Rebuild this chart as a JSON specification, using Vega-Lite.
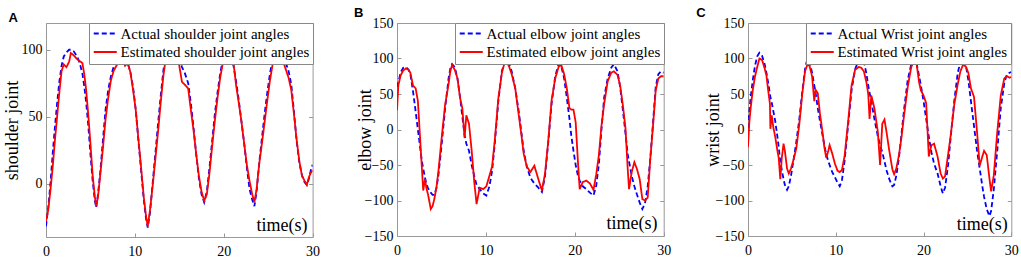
{
  "$schema": "https://vega.github.io/schema/vega-lite/v6.json",
  "background": "white",
  "padding": {"left": 2, "top": 6, "right": 5, "bottom": 0},
  "spacing": 84,
  "bounds": "flush",
  "datasets": {
    "A": [
      {"t":0,"a":-32,"e":-28},{"t":0.25,"a":-18,"e":-20},{"t":0.5,"a":0,"e":-5},{"t":0.75,"a":22,"e":12},{"t":1.0,"a":42,"e":32},{"t":1.25,"a":60,"e":50},{"t":1.5,"a":76,"e":68},{"t":1.75,"a":88,"e":84},{"t":2.0,"a":95,"e":89},{"t":2.3,"a":98,"e":87},{"t":2.6,"a":100,"e":91},{"t":2.8,"a":100,"e":97.5},{"t":3.1,"a":99,"e":96},{"t":3.5,"a":95,"e":93},{"t":3.8,"a":90,"e":91.5},{"t":4.1,"a":82,"e":90},{"t":4.3,"a":73,"e":82},{"t":4.5,"a":62,"e":71},{"t":4.75,"a":44,"e":52},{"t":5.0,"a":22,"e":30},{"t":5.25,"a":2,"e":6},{"t":5.5,"a":-13,"e":-10},{"t":5.65,"a":-18,"e":-17},{"t":5.85,"a":-8,"e":-10},{"t":6.1,"a":8,"e":6},{"t":6.4,"a":32,"e":26},{"t":6.7,"a":55,"e":48},{"t":7.0,"a":70,"e":64},{"t":7.3,"a":80,"e":77},{"t":7.6,"a":87,"e":84},{"t":8.0,"a":92,"e":89},{"t":8.3,"a":95,"e":92},{"t":8.6,"a":96,"e":93},{"t":8.9,"a":94,"e":88},{"t":9.2,"a":90,"e":90},{"t":9.5,"a":83,"e":83},{"t":9.8,"a":72,"e":70},{"t":10.1,"a":55,"e":55},{"t":10.4,"a":32,"e":33},{"t":10.7,"a":10,"e":12},{"t":11.0,"a":-12,"e":-10},{"t":11.25,"a":-26,"e":-24},{"t":11.45,"a":-33,"e":-32},{"t":11.7,"a":-22,"e":-20},{"t":12.0,"a":0,"e":-2},{"t":12.3,"a":22,"e":18},{"t":12.6,"a":44,"e":38},{"t":12.9,"a":65,"e":60},{"t":13.2,"a":84,"e":80},{"t":13.5,"a":98,"e":95},{"t":13.8,"a":106,"e":102},{"t":14.2,"a":108,"e":104},{"t":14.6,"a":104,"e":100},{"t":15.0,"a":93,"e":88},{"t":15.3,"a":87,"e":76},{"t":15.6,"a":83,"e":74},{"t":16.0,"a":75,"e":71},{"t":16.3,"a":60,"e":55},{"t":16.6,"a":42,"e":40},{"t":16.9,"a":22,"e":22},{"t":17.2,"a":4,"e":6},{"t":17.5,"a":-8,"e":-6},{"t":17.8,"a":-14,"e":-13},{"t":18.1,"a":-6,"e":-8},{"t":18.4,"a":12,"e":8},{"t":18.7,"a":32,"e":28},{"t":19.0,"a":52,"e":47},{"t":19.3,"a":68,"e":64},{"t":19.6,"a":82,"e":79},{"t":19.9,"a":93,"e":90},{"t":20.2,"a":100,"e":97},{"t":20.5,"a":101,"e":99},{"t":20.8,"a":96,"e":95},{"t":21.1,"a":88,"e":90},{"t":21.4,"a":76,"e":73},{"t":21.7,"a":62,"e":60},{"t":22.0,"a":46,"e":46},{"t":22.3,"a":30,"e":30},{"t":22.6,"a":12,"e":14},{"t":22.9,"a":-4,"e":2},{"t":23.2,"a":-12,"e":-8},{"t":23.45,"a":-17,"e":-14},{"t":23.7,"a":-6,"e":-4},{"t":24.0,"a":16,"e":15},{"t":24.3,"a":34,"e":30},{"t":24.6,"a":52,"e":46},{"t":24.9,"a":68,"e":62},{"t":25.2,"a":82,"e":77},{"t":25.5,"a":93,"e":89},{"t":25.8,"a":99,"e":96},{"t":26.1,"a":100,"e":98},{"t":26.4,"a":98,"e":95},{"t":26.7,"a":94,"e":91},{"t":27.0,"a":90,"e":85},{"t":27.3,"a":84,"e":79},{"t":27.6,"a":74,"e":70},{"t":27.9,"a":54,"e":52},{"t":28.2,"a":32,"e":33},{"t":28.5,"a":16,"e":17},{"t":28.8,"a":6,"e":6},{"t":29.1,"a":1,"e":2},{"t":29.35,"a":-1,"e":-1},{"t":29.6,"a":4,"e":5},{"t":29.8,"a":10,"e":8},{"t":30.0,"a":14,"e":10}
    ],
    "B": [
      {"t":0,"a":60,"e":27},{"t":0.15,"a":66,"e":62},{"t":0.4,"a":80,"e":76},{"t":0.7,"a":87,"e":83},{"t":1.0,"a":88,"e":86},{"t":1.3,"a":84,"e":84},{"t":1.5,"a":78,"e":80},{"t":1.8,"a":54,"e":62},{"t":2.1,"a":25,"e":58},{"t":2.35,"a":0,"e":40},{"t":2.6,"a":-25,"e":-13},{"t":2.8,"a":-45,"e":-55},{"t":2.95,"a":-55,"e":-86},{"t":3.15,"a":-68,"e":-70},{"t":3.3,"a":-76,"e":-82},{"t":3.5,"a":-83,"e":-92},{"t":3.8,"a":-89,"e":-112},{"t":4.0,"a":-92,"e":-108},{"t":4.2,"a":-92,"e":-98},{"t":4.45,"a":-82,"e":-80},{"t":4.65,"a":-65,"e":-60},{"t":5.0,"a":-24,"e":-15},{"t":5.4,"a":28,"e":34},{"t":5.8,"a":72,"e":64},{"t":6.0,"a":86,"e":82},{"t":6.2,"a":92,"e":91},{"t":6.5,"a":88,"e":84},{"t":6.8,"a":72,"e":72},{"t":7.1,"a":45,"e":44},{"t":7.35,"a":18,"e":30},{"t":7.6,"a":-8,"e":-12},{"t":7.8,"a":-20,"e":20},{"t":8.1,"a":-30,"e":8},{"t":8.4,"a":-50,"e":-30},{"t":8.7,"a":-66,"e":-75},{"t":8.95,"a":-78,"e":-105},{"t":9.3,"a":-84,"e":-82},{"t":9.7,"a":-90,"e":-84},{"t":10.05,"a":-93,"e":-80},{"t":10.4,"a":-80,"e":-65},{"t":10.7,"a":-58,"e":-52},{"t":11.0,"a":-20,"e":-15},{"t":11.4,"a":40,"e":44},{"t":11.8,"a":82,"e":80},{"t":12.1,"a":96,"e":94},{"t":12.3,"a":98,"e":96},{"t":12.6,"a":93,"e":89},{"t":12.9,"a":82,"e":78},{"t":13.3,"a":58,"e":58},{"t":13.7,"a":25,"e":20},{"t":14.0,"a":-5,"e":-8},{"t":14.25,"a":-30,"e":-34},{"t":14.6,"a":-52,"e":-52},{"t":15.0,"a":-68,"e":-60},{"t":15.45,"a":-76,"e":-51},{"t":15.9,"a":-82,"e":-70},{"t":16.3,"a":-88,"e":-86},{"t":16.65,"a":-66,"e":-62},{"t":17.0,"a":-20,"e":-18},{"t":17.4,"a":38,"e":42},{"t":17.8,"a":75,"e":72},{"t":18.2,"a":93,"e":89},{"t":18.5,"a":88,"e":90},{"t":18.8,"a":72,"e":78},{"t":19.1,"a":45,"e":58},{"t":19.4,"a":15,"e":30},{"t":19.6,"a":-8,"e":28},{"t":19.85,"a":-30,"e":28},{"t":20.1,"a":-50,"e":10},{"t":20.35,"a":-65,"e":-45},{"t":20.55,"a":-72,"e":-84},{"t":20.9,"a":-80,"e":-74},{"t":21.3,"a":-84,"e":-72},{"t":21.7,"a":-89,"e":-76},{"t":22.1,"a":-93,"e":-85},{"t":22.4,"a":-80,"e":-64},{"t":22.7,"a":-50,"e":-37},{"t":23.0,"a":0,"e":5},{"t":23.3,"a":45,"e":36},{"t":23.7,"a":72,"e":68},{"t":24.1,"a":87,"e":80},{"t":24.4,"a":92,"e":82},{"t":24.8,"a":82,"e":77},{"t":25.1,"a":60,"e":62},{"t":25.4,"a":28,"e":35},{"t":25.7,"a":-5,"e":2},{"t":25.95,"a":-35,"e":-55},{"t":26.1,"a":-45,"e":-84},{"t":26.4,"a":-65,"e":-60},{"t":26.7,"a":-80,"e":-46},{"t":27.0,"a":-92,"e":-56},{"t":27.3,"a":-103,"e":-70},{"t":27.6,"a":-112,"e":-98},{"t":27.9,"a":-104,"e":-100},{"t":28.2,"a":-80,"e":-96},{"t":28.5,"a":-40,"e":-40},{"t":28.8,"a":10,"e":5},{"t":29.1,"a":60,"e":55},{"t":29.4,"a":78,"e":72},{"t":29.7,"a":82,"e":75},{"t":30.0,"a":80,"e":75}
    ],
    "C": [
      {"t":0,"a":2,"e":-25},{"t":0.15,"a":25,"e":10},{"t":0.3,"a":45,"e":30},{"t":0.55,"a":70,"e":56},{"t":0.8,"a":90,"e":75},{"t":1.05,"a":103,"e":88},{"t":1.3,"a":108,"e":100},{"t":1.6,"a":104,"e":98},{"t":1.9,"a":92,"e":86},{"t":2.1,"a":80,"e":76},{"t":2.35,"a":62,"e":50},{"t":2.5,"a":50,"e":36},{"t":2.55,"a":46,"e":1},{"t":2.7,"a":38,"e":20},{"t":2.9,"a":25,"e":2},{"t":3.1,"a":12,"e":-10},{"t":3.35,"a":-10,"e":-30},{"t":3.5,"a":-25,"e":-40},{"t":3.68,"a":-45,"e":-70},{"t":3.85,"a":-57,"e":-40},{"t":4.05,"a":-70,"e":-20},{"t":4.2,"a":-78,"e":-30},{"t":4.45,"a":-85,"e":-55},{"t":4.65,"a":-80,"e":-62},{"t":4.9,"a":-65,"e":-55},{"t":5.2,"a":-42,"e":-42},{"t":5.5,"a":-18,"e":-27},{"t":5.85,"a":15,"e":8},{"t":6.2,"a":55,"e":52},{"t":6.5,"a":85,"e":82},{"t":6.75,"a":99,"e":91},{"t":7.0,"a":96,"e":90},{"t":7.3,"a":80,"e":75},{"t":7.55,"a":62,"e":40},{"t":7.7,"a":52,"e":56},{"t":7.95,"a":30,"e":51},{"t":8.2,"a":12,"e":22},{"t":8.45,"a":-5,"e":0},{"t":8.7,"a":-22,"e":-25},{"t":8.92,"a":-35,"e":-40},{"t":9.15,"a":-45,"e":-30},{"t":9.3,"a":-50,"e":-22},{"t":9.6,"a":-60,"e":-34},{"t":9.9,"a":-67,"e":-48},{"t":10.2,"a":-75,"e":-58},{"t":10.45,"a":-80,"e":-60},{"t":10.7,"a":-72,"e":-57},{"t":11.0,"a":-45,"e":-38},{"t":11.4,"a":5,"e":10},{"t":11.8,"a":55,"e":62},{"t":12.2,"a":85,"e":84},{"t":12.6,"a":97,"e":88},{"t":12.9,"a":100,"e":87},{"t":13.2,"a":96,"e":82},{"t":13.5,"a":78,"e":66},{"t":13.7,"a":62,"e":50},{"t":13.85,"a":52,"e":15},{"t":14.05,"a":40,"e":48},{"t":14.4,"a":15,"e":30},{"t":14.8,"a":-10,"e":-4},{"t":15.05,"a":-22,"e":-50},{"t":15.3,"a":-32,"e":8},{"t":15.55,"a":-45,"e":14},{"t":15.8,"a":-58,"e":-5},{"t":16.1,"a":-70,"e":-30},{"t":16.45,"a":-80,"e":-56},{"t":16.65,"a":-78,"e":-63},{"t":16.9,"a":-65,"e":-55},{"t":17.2,"a":-40,"e":-36},{"t":17.5,"a":-5,"e":-10},{"t":17.8,"a":30,"e":22},{"t":18.2,"a":70,"e":60},{"t":18.6,"a":92,"e":88},{"t":18.9,"a":99,"e":96},{"t":19.2,"a":94,"e":93},{"t":19.5,"a":75,"e":66},{"t":19.7,"a":62,"e":55},{"t":20.0,"a":40,"e":48},{"t":20.3,"a":15,"e":37},{"t":20.6,"a":-10,"e":-38},{"t":20.9,"a":-32,"e":-22},{"t":21.2,"a":-48,"e":-20},{"t":21.6,"a":-62,"e":-38},{"t":21.95,"a":-80,"e":-62},{"t":22.2,"a":-90,"e":-69},{"t":22.45,"a":-82,"e":-66},{"t":22.8,"a":-50,"e":-35},{"t":23.1,"a":-10,"e":-8},{"t":23.5,"a":40,"e":35},{"t":23.9,"a":80,"e":64},{"t":24.2,"a":95,"e":82},{"t":24.5,"a":100,"e":91},{"t":24.8,"a":92,"e":89},{"t":25.1,"a":70,"e":80},{"t":25.4,"a":40,"e":58},{"t":25.75,"a":5,"e":46},{"t":26.1,"a":-30,"e":-4},{"t":26.4,"a":-55,"e":-51},{"t":26.7,"a":-80,"e":-38},{"t":26.9,"a":-95,"e":-30},{"t":27.2,"a":-112,"e":-36},{"t":27.5,"a":-122,"e":-68},{"t":27.7,"a":-115,"e":-87},{"t":28.0,"a":-85,"e":-65},{"t":28.4,"a":-30,"e":-4},{"t":28.8,"a":30,"e":48},{"t":29.2,"a":65,"e":72},{"t":29.5,"a":78,"e":75},{"t":29.8,"a":80,"e":73},{"t":30.0,"a":81,"e":74}
    ]
  },
  "hconcat": [
    {
      "title": {"text": "A", "dx": -37.5, "offset": -2},
      "width": 266.6, "height": 214,
      "data": {"name": "A"},
      "transform": [{"fold": ["a", "e"], "as": ["s", "v"]}],
      "layer": [
        {
          "mark": {"type": "line", "strokeWidth": 1.8, "clip": true},
          "encoding": {
            "x": {"field": "t", "type": "quantitative", "scale": {"domain": [0, 30], "nice": false},
                  "axis": {"values": [0, 10, 20, 30], "title": "time(s)", "titleX": 261, "titleY": -6.5, "titleAlign": "right", "titleBaseline": "alphabetic", "labelFlush": false}},
            "y": {"field": "v", "type": "quantitative", "scale": {"domain": [-40, 120], "nice": false, "zero": false},
                  "axis": {"values": [0, 50, 100], "title": "shoulder joint", "titleX": -25, "titleY": 107, "titleBaseline": "bottom", "titleAlign": "center", "titleAngle": 270}},
            "color": {"field": "s", "type": "nominal", "scale": {"domain": ["a", "e"], "range": ["#0000ff", "#ff0000"]},
                      "legend": {"labelExpr": "datum.value == 'a' ? 'Actual shoulder joint angles' : 'Estimated shoulder joint angles'"}},
            "strokeDash": {"field": "s", "type": "nominal", "scale": {"domain": ["a", "e"], "range": [[5, 3], [1, 0]]},
                      "legend": {"labelExpr": "datum.value == 'a' ? 'Actual shoulder joint angles' : 'Estimated shoulder joint angles'"}}
          }
        },
        {
          "mark": {"type": "line", "opacity": 0},
          "encoding": {
            "x": {"field": "t", "type": "quantitative", "axis": {"orient": "top", "values": [0, 10, 20, 30], "labels": false, "title": null}},
            "y": {"field": "v", "type": "quantitative", "axis": {"orient": "right", "values": [0, 50, 100], "labels": false, "title": null}},
            "detail": {"field": "s"}
          }
        }
      ],
      "resolve": {"axis": {"x": "independent", "y": "independent"}}
    },
    {
      "title": {"text": "B", "dx": -43, "offset": -4},
      "width": 266.7, "height": 213,
      "data": {"name": "B"},
      "transform": [{"fold": ["a", "e"], "as": ["s", "v"]}],
      "layer": [
        {
          "mark": {"type": "line", "strokeWidth": 1.8, "clip": true},
          "encoding": {
            "x": {"field": "t", "type": "quantitative", "scale": {"domain": [0, 30], "nice": false},
                  "axis": {"values": [0, 10, 20, 30], "title": "time(s)", "titleX": 260, "titleY": -8, "titleAlign": "right", "titleBaseline": "alphabetic", "labelFlush": false}},
            "y": {"field": "v", "type": "quantitative", "scale": {"domain": [-150, 150], "nice": false},
                  "axis": {"values": [-150, -100, -50, 0, 50, 100, 150], "title": "elbow joint", "titleX": -23, "titleY": 106.5, "titleBaseline": "bottom", "titleAlign": "center", "titleAngle": 270}},
            "color": {"field": "s", "type": "nominal", "scale": {"domain": ["a", "e"], "range": ["#0000ff", "#ff0000"]},
                      "legend": {"labelExpr": "datum.value == 'a' ? 'Actual elbow joint angles' : 'Estimated elbow joint angles'"}},
            "strokeDash": {"field": "s", "type": "nominal", "scale": {"domain": ["a", "e"], "range": [[5, 3], [1, 0]]},
                      "legend": {"labelExpr": "datum.value == 'a' ? 'Actual elbow joint angles' : 'Estimated elbow joint angles'"}}
          }
        },
        {
          "mark": {"type": "line", "opacity": 0},
          "encoding": {
            "x": {"field": "t", "type": "quantitative", "axis": {"orient": "top", "values": [0, 10, 20, 30], "labels": false, "title": null}},
            "y": {"field": "v", "type": "quantitative", "axis": {"orient": "right", "values": [-150, -100, -50, 0, 50, 100, 150], "labels": false, "title": null}},
            "detail": {"field": "s"}
          }
        }
      ],
      "resolve": {"axis": {"x": "independent", "y": "independent"}}
    },
    {
      "title": {"text": "C", "dx": -51.7, "offset": -4},
      "width": 263.3, "height": 213,
      "data": {"name": "C"},
      "transform": [{"fold": ["a", "e"], "as": ["s", "v"]}],
      "layer": [
        {
          "mark": {"type": "line", "strokeWidth": 1.8, "clip": true},
          "encoding": {
            "x": {"field": "t", "type": "quantitative", "scale": {"domain": [0, 30], "nice": false},
                  "axis": {"values": [0, 10, 20, 30], "title": "time(s)", "titleX": 259.3, "titleY": -7, "titleAlign": "right", "titleBaseline": "alphabetic", "labelFlush": false}},
            "y": {"field": "v", "type": "quantitative", "scale": {"domain": [-150, 150], "nice": false},
                  "axis": {"values": [-150, -100, -50, 0, 50, 100, 150], "title": "wrist joint", "titleX": -26, "titleY": 106.5, "titleBaseline": "bottom", "titleAlign": "center", "titleAngle": 270}},
            "color": {"field": "s", "type": "nominal", "scale": {"domain": ["a", "e"], "range": ["#0000ff", "#ff0000"]},
                      "legend": {"labelExpr": "datum.value == 'a' ? 'Actual Wrist joint angles' : 'Estimated Wrist joint angles'"}},
            "strokeDash": {"field": "s", "type": "nominal", "scale": {"domain": ["a", "e"], "range": [[5, 3], [1, 0]]},
                      "legend": {"labelExpr": "datum.value == 'a' ? 'Actual Wrist joint angles' : 'Estimated Wrist joint angles'"}}
          }
        },
        {
          "mark": {"type": "line", "opacity": 0},
          "encoding": {
            "x": {"field": "t", "type": "quantitative", "axis": {"orient": "top", "values": [0, 10, 20, 30], "labels": false, "title": null}},
            "y": {"field": "v", "type": "quantitative", "axis": {"orient": "right", "values": [-150, -100, -50, 0, 50, 100, 150], "labels": false, "title": null}},
            "detail": {"field": "s"}
          }
        }
      ],
      "resolve": {"axis": {"x": "independent", "y": "independent"}}
    }
  ],
  "resolve": {"scale": {"color": "independent", "strokeDash": "independent"}, "legend": {"color": "independent", "strokeDash": "independent"}},
  "config": {
    "view": {"stroke": "#999999", "strokeWidth": 1},
    "axis": {"grid": false, "domain": false, "tickColor": "#999999", "tickSize": -4, "tickWidth": 1,
             "labelFont": "Liberation Serif", "labelFontSize": 14, "labelColor": "black",
             "titleFont": "Liberation Serif", "titleFontSize": 18, "titleFontWeight": "normal", "titleColor": "black"},
    "axisBottom": {"labelPadding": 11},
    "axisLeft": {"labelPadding": 8},
    "legend": {"orient": "top-right", "offset": 0, "title": null, "fillColor": "white", "strokeColor": "#888888",
               "padding": 3, "rowPadding": 2.6, "labelFont": "Liberation Serif", "labelFontSize": 15, "labelColor": "black", "labelLimit": 400,
               "symbolType": "M-2,0H2", "symbolSize": 132.25, "symbolOffset": 5.75, "symbolStrokeWidth": 2, "labelOffset": 7.75, "cornerRadius": 0},
    "title": {"font": "Liberation Sans", "fontSize": 13, "fontWeight": "bold", "color": "black", "anchor": "start", "frame": "group", "baseline": "alphabetic"}
  }
}
